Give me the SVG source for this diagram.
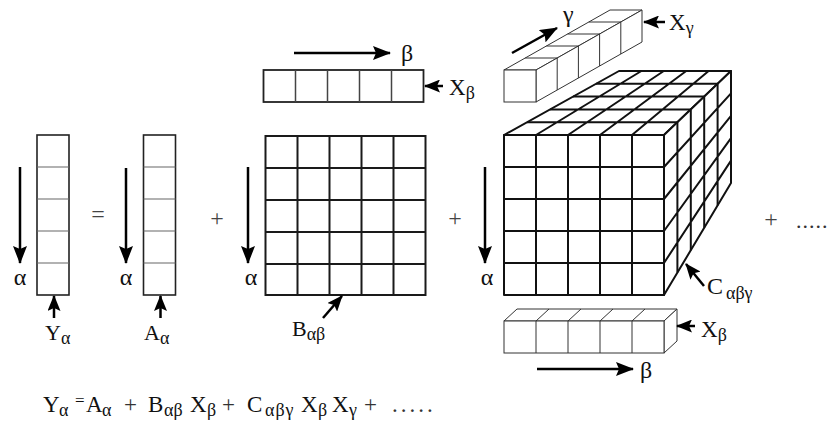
<svg xmlns="http://www.w3.org/2000/svg" width="830" height="437" viewBox="0 0 830 437" font-family="'Liberation Serif', 'Times New Roman', serif">
<defs>
<marker id="ah" viewBox="0 0 18 14" refX="17" refY="7" markerWidth="18" markerHeight="14" markerUnits="userSpaceOnUse" orient="auto">
<path d="M0,0 L18,7 L0,14 L3,7 Z" fill="#000"/>
</marker>
<marker id="ahs" viewBox="0 0 16 13" refX="15" refY="6.5" markerWidth="16" markerHeight="13" markerUnits="userSpaceOnUse" orient="auto">
<path d="M0,0 L16,6.5 L0,13 L3,6.5 Z" fill="#000"/>
</marker>
<style>
text{font-family:"Liberation Serif","Times New Roman",serif;fill:#111}
.lbl{font-size:24px}
.mid{text-anchor:middle}
.sub{font-size:18px}
.op{font-size:24px;fill:#444;text-anchor:middle}
.outer{fill:#fff;stroke:#222;stroke-width:1.6}
.inner{stroke:#666;stroke-width:1.2;fill:none}
.grid{stroke:#1a1a1a;stroke-width:2;fill:none}
.cube{stroke:#111;stroke-width:2;fill:#fff;stroke-linejoin:round}
.bar{stroke:#333;stroke-width:1;fill:#fff}
.arr{stroke:#000;stroke-width:2.5;fill:none;marker-end:url(#ah)}
.arrs{stroke:#000;stroke-width:2.5;fill:none;marker-end:url(#ahs)}
</style>
</defs>

<g id="Y-vector">
<rect class="outer" x="37" y="135" width="32" height="160"/>
<path class="inner" d="M37,167H69M37,199H69M37,231H69M37,263H69"/>
<text class="lbl mid" x="20" y="285">α</text>
<text x="45" y="340" style="font-size:22px">Y<tspan class="sub" dy="4">α</tspan></text>
</g>

<g id="A-vector">
<rect class="outer" x="143.5" y="135" width="32" height="160"/>
<path class="inner" d="M143.5,167H175.5M143.5,199H175.5M143.5,231H175.5M143.5,263H175.5"/>
<text class="lbl mid" x="126" y="285">α</text>
<text x="144" y="340" style="font-size:22px">A<tspan class="sub" dy="4">α</tspan></text>
</g>

<g id="X-beta-top">
<rect class="outer" x="263.5" y="70" width="160" height="32" style="stroke-width:1.8"/>
<path class="inner" d="M295.5,70V102M327.5,70V102M359.5,70V102M391.5,70V102" style="stroke:#444;stroke-width:1.5"/>
<text class="lbl" x="401" y="61">β</text>
<text x="449" y="95" style="font-size:23px">X<tspan class="sub" dy="4">β</tspan></text>
</g>

<g id="B-matrix">
<rect class="grid" x="265.5" y="136" width="160" height="159"/>
<path class="grid" d="M297.5,136V295M329.5,136V295M361.5,136V295M393.5,136V295M265.5,168H425.5M265.5,200H425.5M265.5,232H425.5M265.5,264H425.5"/>
<text class="lbl mid" x="251" y="285">α</text>
<text x="292" y="336" style="font-size:22px">B<tspan class="sub" dy="4">αβ</tspan></text>
</g>

<g id="X-gamma-bar">
<polygon class="bar" points="504,70 536,70 642,10 610,10"/>
<polygon class="bar" points="536,70 536,102 642,42 642,10"/>
<rect class="bar" x="504" y="70" width="32" height="32"/>
<path class="bar" d="M525.2,58H557.2M546.4,46H578.4M567.6,34H599.6M588.8,22H620.8M557.2,58V90M578.4,46V78M599.6,34V66M620.8,22V54"/>
<text class="lbl" x="563" y="22">γ</text>
<text x="669" y="30" style="font-size:23px">X<tspan class="sub" dy="4">γ</tspan></text>
</g>

<g id="C-tensor">
<polygon class="cube" points="504,135 664,135 731,71 619,71"/>
<polygon class="cube" points="664,135 731,71 731,183 664,295"/>
<rect class="cube" x="504" y="135" width="160" height="160"/>
<path class="cube" style="fill:none" d="M527,122.2H677.4M550,109.4H690.8M573,96.6H704.2M596,83.8H717.6M536,135L641.4,71M568,135L663.8,71M600,135L686.2,71M632,135L708.6,71M677.4,122.2V272.6M690.8,109.4V250.2M704.2,96.6V227.8M717.6,83.8V205.4M664,167L731,93.4M664,199L731,115.8M664,231L731,138.2M664,263L731,160.6M536,135V295M568,135V295M600,135V295M632,135V295M504,167H664M504,199H664M504,231H664M504,263H664"/>
<text class="lbl mid" x="487" y="285">α</text>
<text x="707" y="294" style="font-size:24px">C<tspan class="sub" dx="3" dy="5">αβγ</tspan></text>
</g>

<g id="X-beta-bottom">
<polygon class="bar" points="504,321 664,321 677,309 517,309"/>
<polygon class="bar" points="664,321 677,309 677,341 664,353"/>
<rect class="bar" x="504" y="321" width="160" height="32"/>
<path class="bar" d="M536,321V353M568,321V353M600,321V353M632,321V353M536,321L549,309M568,321L581,309M600,321L613,309M632,321L645,309"/>
<text x="701" y="337" style="font-size:23px">X<tspan class="sub" dy="4">β</tspan></text>
<text class="lbl" x="640" y="378">β</text>
</g>

<g id="connectors">
<line class="arr" x1="20" y1="167" x2="20" y2="263"/>
<line class="arr" x1="126" y1="168" x2="126" y2="263"/>
<line class="arr" x1="248" y1="167" x2="248" y2="263"/>
<line class="arr" x1="485" y1="167" x2="485" y2="263"/>
<line class="arrs" x1="54" y1="318" x2="54" y2="296"/>
<line class="arrs" x1="160.5" y1="318" x2="160.5" y2="296"/>
<line class="arr" x1="294" y1="53" x2="390" y2="53"/>
<line class="arrs" x1="443" y1="86" x2="425" y2="86"/>
<line class="arrs" x1="323" y1="318" x2="342" y2="296"/>
<line class="arr" x1="512" y1="53" x2="557" y2="28"/>
<line class="arrs" x1="665" y1="22" x2="644" y2="22"/>
<line class="arrs" x1="704" y1="286" x2="686" y2="264"/>
<line class="arrs" x1="695" y1="326" x2="677" y2="326"/>
<line class="arr" x1="537" y1="369" x2="633" y2="369"/>
</g>

<g id="operators">
<text class="op" x="98" y="222">=</text>
<text class="op" x="217" y="226">+</text>
<text class="op" x="455" y="226">+</text>
<text class="op" x="771" y="227">+</text>
<text x="796" y="228" style="font-size:22px;letter-spacing:1px;fill:#333">.....</text>
</g>

<g id="equation" style="font-size:23px">
<text x="43" y="412">Y</text><text class="sub" x="59" y="416">α</text>
<text x="75" y="406" style="font-size:17px">=</text>
<text x="86" y="412">A</text><text class="sub" x="102" y="416">α</text>
<text x="124" y="412" style="fill:#333">+</text>
<text x="148" y="412">B</text><text class="sub" x="164" y="416">αβ</text>
<text x="190" y="412">X</text><text class="sub" x="207" y="416">β</text>
<text x="222" y="412" style="fill:#333">+</text>
<text x="247" y="412">C</text><text class="sub" x="265" y="416" style="letter-spacing:1px">αβγ</text>
<text x="301" y="412">X</text><text class="sub" x="318" y="416">β</text>
<text x="332" y="412">X</text><text class="sub" x="349" y="416">γ</text>
<text x="364" y="412" style="fill:#333">+</text>
<text x="392" y="412" style="letter-spacing:3px;fill:#333">.....</text>
</g>
</svg>
